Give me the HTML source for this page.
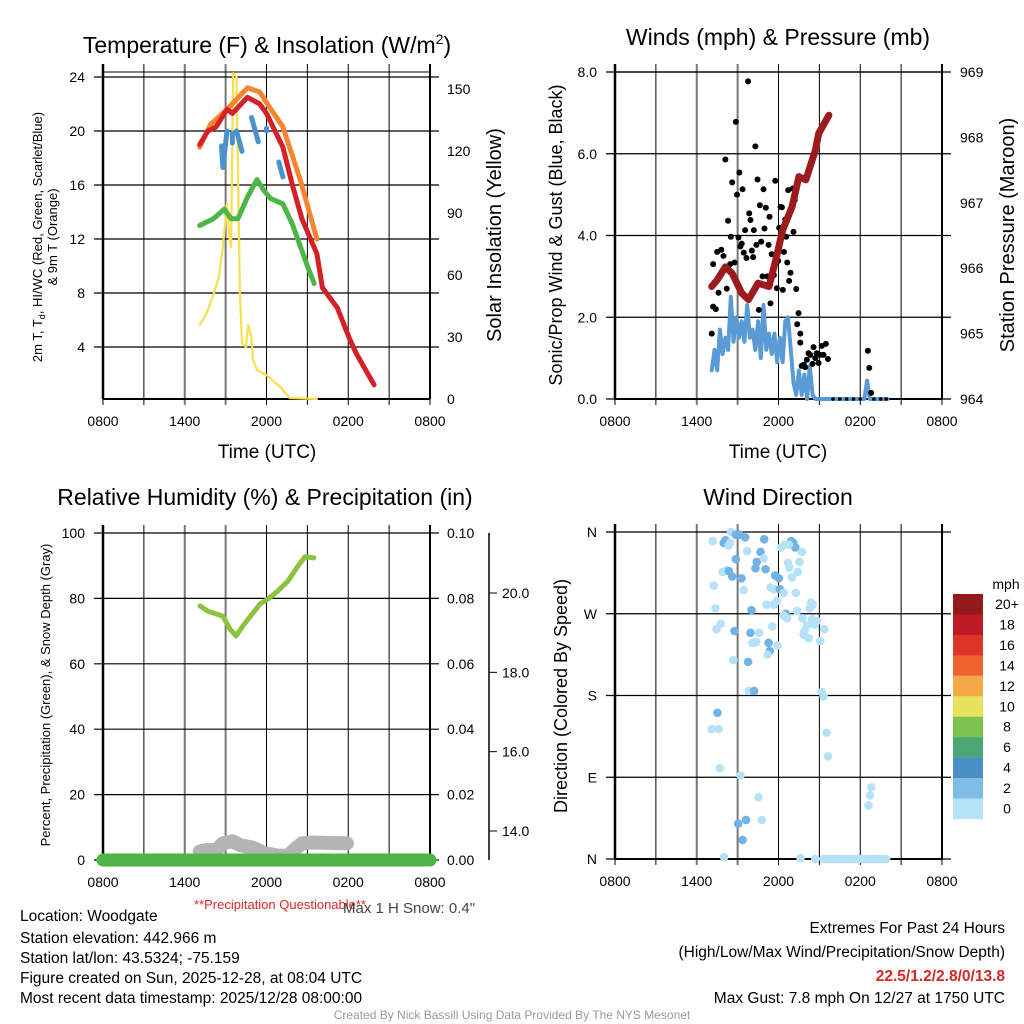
<!DOCTYPE html>
<html><head><meta charset="utf-8"><style>
html,body{margin:0;padding:0;background:#fff}
svg{display:block}
text{font-family:"Liberation Sans",sans-serif;fill:#000}
</style></head><body>
<svg id="s" width="1024" height="1024" viewBox="0 0 1024 1024" xmlns="http://www.w3.org/2000/svg">
<g id="static">
<text x="267" y="53" font-size="23" text-anchor="middle">Temperature (F) &amp; Insolation (W/m<tspan dy="-9" font-size="14">2</tspan><tspan dy="9">)</tspan></text>
<text x="778" y="45" font-size="23" text-anchor="middle">Winds (mph) &amp; Pressure (mb)</text>
<text x="265" y="505" font-size="23" text-anchor="middle">Relative Humidity (%) &amp; Precipitation (in)</text>
<text x="778" y="505" font-size="23" text-anchor="middle">Wind Direction</text>

<text transform="translate(42,237) rotate(-90)" font-size="13" text-anchor="middle">2m T, T<tspan dy="3" font-size="9">d</tspan><tspan dy="-3">, HI/WC (Red, Green, Scarlet/Blue)</tspan></text>
<text transform="translate(57,237) rotate(-90)" font-size="13" text-anchor="middle">&amp; 9m T (Orange)</text>
<text transform="translate(501,235) rotate(-90)" font-size="20" text-anchor="middle">Solar Insolation (Yellow)</text>
<text transform="translate(562,235) rotate(-90)" font-size="18" text-anchor="middle">Sonic/Prop Wind &amp; Gust (Blue, Black)</text>
<text transform="translate(1014,235) rotate(-90)" font-size="20" text-anchor="middle">Station Pressure (Maroon)</text>
<text transform="translate(50,695) rotate(-90)" font-size="13" text-anchor="middle">Percent, Precipitation (Green), &amp; Snow Depth (Gray)</text>
<text transform="translate(567,696) rotate(-90)" font-size="18" text-anchor="middle">Direction (Colored By Speed)</text>
<text x="267" y="458" font-size="19" text-anchor="middle">Time (UTC)</text>
<text x="778" y="458" font-size="19" text-anchor="middle">Time (UTC)</text>

<text x="280" y="909" font-size="13" fill="#d62728" style="fill:#d62728" text-anchor="middle">**Precipitation Questionable**</text>
<text x="343" y="913" font-size="15" style="fill:#444">Max 1 H Snow: 0.4"</text>
<g font-size="15.5">
<text x="20" y="921">Location: Woodgate</text>
<text x="20" y="943">Station elevation: 442.966 m</text>
<text x="20" y="963">Station lat/lon: 43.5324; -75.159</text>
<text x="20" y="983">Figure created on Sun, 2025-12-28, at 08:04 UTC</text>
<text x="20" y="1003">Most recent data timestamp: 2025/12/28 08:00:00</text>
</g>
<g font-size="15.5" text-anchor="end">
<text x="1005" y="933">Extremes For Past 24 Hours</text>
<text x="1005" y="957">(High/Low/Max Wind/Precipitation/Snow Depth)</text>
<text x="1005" y="981" font-weight="bold" style="fill:#d62728">22.5/1.2/2.8/0/13.8</text>
<text x="1005" y="1003">Max Gust: 7.8 mph On 12/27 at 1750 UTC</text>
</g>
<text x="512" y="1019" font-size="12" text-anchor="middle" style="fill:#999">Created By Nick Bassill Using Data Provided By The NYS Mesonet</text>
</g>
</svg>
<script>
// ---- data (hours after 0800 UTC) ----
const timeTicks = ["0800","1400","2000","0200","0800"];
const redT_h = [7.1,7.7,8.3,9.1,9.5,10.6,11.5,12.0,13.2,13.9,14.6,15.7,16.1,17.2,18.1,18.6,19.9];
const redT_v = [19.0,20.0,20.3,21.6,21.3,22.5,22.0,21.3,18.8,16.0,13.5,10.9,8.4,6.9,4.6,3.5,1.2];
const orgT_h = [7.1,7.9,9.1,10.6,11.5,12.0,13.2,14.5,15.7];
const orgT_v = [18.8,20.5,21.6,23.2,22.9,22.1,20.3,16.3,12.0];
const grnT_h = [7.1,8.1,8.9,9.4,9.9,10.6,11.3,11.8,12.3,13.2,13.9,15.0,15.5];
const grnT_v = [13.0,13.5,14.2,13.5,13.5,15.1,16.4,15.6,15.0,14.6,13.1,10.0,8.7];
const bluT_h = [8.7,8.8,9.1,null,9.5,9.5,null,9.8,10.2,null,10.9,11.4,null,12.0,12.0,null,12.9,13.2];
const bluT_v = [18.9,17.3,20.0,null,19.8,19.1,null,20.0,18.5,null,21.0,19.2,null,20.2,20.0,null,17.7,16.6];
const solar_h = [7.1,7.6,8.1,8.5,8.8,9.1,9.3,9.4,9.55,9.8,10.05,10.2,10.5,10.65,10.9,11.0,11.3,12.0,13.0,13.7,15.7];
const solar_v = [35.8,41.6,50.3,59,73.5,94.8,77,73.5,157.7,155.8,51,27,25,35.8,30,19,14,11.6,5.8,0.5,0];
const pres_h = [7.1,7.5,8.1,8.6,9.3,9.8,10.5,11.3,11.8,12.3,13.0,13.5,14.0,14.7,14.95,15.7];
const pres_v = [965.72,965.82,966.02,965.92,965.62,965.52,965.77,965.72,966.13,966.58,966.94,967.40,967.35,967.80,968.06,968.34];
const wind_h = [7.1,7.3,7.5,7.7,7.9,8.1,8.3,8.5,8.7,8.9,9.1,9.3,9.5,9.7,9.9,10.1,10.3,10.5,10.7,10.9,11.1,11.3,11.5,11.7,11.9,12.1,12.3,12.5,12.7,12.9,13.1,13.3,13.5,13.7,13.9,14.1,14.3,14.5,14.7,15.0,18.3,18.5,18.7,20.0];
const wind_v = [0.7,1.2,0.7,1.7,1.1,1.5,1.2,2.5,1.4,2.0,1.5,1.9,1.4,2.3,1.5,1.7,1.2,1.9,1.0,2.3,1.2,1.6,1.1,1.6,0.9,1.5,0.9,1.9,2.0,1.2,0.4,0.1,0.7,0.1,0.6,0.0,0.8,0.1,0.0,0.0,0.0,0.45,0.0,0.0];
const gust_h = [7.1,7.2,7.2,7.4,7.5,7.6,7.8,7.96,8.1,8.2,8.3,8.45,8.5,8.6,8.77,8.87,8.96,9.06,9.13,9.2,9.3,9.36,9.45,9.55,9.65,9.77,9.85,9.94,10.04,10.14,10.19,10.3,10.38,10.46,10.56,10.63,10.73,10.83,10.9,10.97,11.07,11.17,11.27,11.34,11.41,11.5,11.66,11.76,11.88,11.98,12.05,12.15,12.25,12.32,12.4,12.49,12.56,12.64,12.71,12.78,12.88,13.03,13.1,13.2,13.3,13.37,13.47,13.6,13.6,13.7,13.86,13.96,14.08,14.2,14.33,14.5,14.57,14.7,14.8,14.94,15.06,15.18,15.3,15.48,15.63,18.56,18.66,18.8,16.0,16.5,17.0,17.5,18.0,19.0,19.5,19.9];
const gust_v = [1.6,3.3,2.26,2.2,3.6,2.6,3.65,3.5,5.86,2.7,4.36,3.3,3.97,5.3,3.34,6.78,5.0,3.95,5.54,3.73,3.8,5.13,3.58,4.13,3.45,7.77,4.54,4.38,3.63,3.47,4.13,6.18,3.77,5.37,2.18,4.74,3.85,3.0,5.13,4.17,4.68,3.0,3.77,4.46,2.34,3.54,3.03,5.34,2.71,3.38,4.19,4.7,4.69,2.67,3.6,4.39,3.97,3.34,5.11,2.89,3.09,5.15,4.09,4.87,2.69,1.83,2.1,1.6,1.38,0.81,0.84,0.78,0.96,1.12,1.08,0.86,1.27,1.0,1.12,0.88,1.08,1.3,1.08,1.35,0.98,1.18,0.76,0.15,0,0,0,0,0,0,0,0];
const rh_h = [7.12,7.70,8.80,9.32,9.76,10.27,11.0,11.52,12.1,12.84,13.57,14.31,14.82,15.48];
const rh_v = [77.7,76.1,74.6,70.6,68.5,71.6,75.5,78.3,79.8,82.3,85.3,89.9,92.7,92.4];
const precip_h = [0,24];
const precip_v = [0,0];
const snow_h = [7.1,7.6,8.3,8.8,9.5,10.1,11.0,11.8,12.8,13.6,14.1,14.6,15.3,17.9];
const snow_v = [13.48,13.52,13.51,13.69,13.74,13.64,13.58,13.45,13.38,13.38,13.55,13.69,13.71,13.69];
const dir_h = [7.18,8.52,7.98,8.11,8.33,8.45,8.87,9.14,9.55,9.70,10.68,10.95,10.41,10.90,10.31,11.05,8.87,7.89,8.20,8.35,8.60,9.28,7.25,9.45,11.76,12.03,11.41,11.68,12.10,12.39,12.93,13.08,13.23,12.76,12.20,12.44,13.72,12.69,12.78,13.54,12.98,13.42,13.27,7.37,10.02,11.12,11.66,11.88,12.54,13.37,14.38,14.52,14.28,12.37,12.64,13.76,14.45,14.82,14.65,15.36,14.08,13.91,13.84,14.21,15.06,7.45,7.76,8.77,9.94,10.58,10.09,10.36,11.54,11.27,11.36,11.19,11.93,8.69,9.77,9.82,10.21,15.18,15.31,7.52,7.10,7.62,15.53,15.63,7.69,9.21,10.53,10.78,9.62,9.04,9.36,18.81,18.71,18.61,8.01,13.62,14.70,15.3,15.5,15.7,15.9,16.1,16.3,16.5,16.7,16.9,17.1,17.3,17.5,17.7,17.9,18.1,18.3,18.5,18.7,18.9,19.1,19.3,19.5,19.7,19.9];
const dir_deg = [350,360,348,351,345,348,357,357,354,339,338,352,327,331,320,319,330,316,318,317,311,309,301,296,312,309,299,297,297,293,350,348,343,346,343,346,338,326,321,327,310,316,293,276,274,280,280,284,270,273,282,280,276,268,265,265,264,262,258,253,257,251,247,243,240,253,259,251,249,249,238,239,256,238,229,225,235,219,217,185,185,184,179,161,143,143,139,113,100,92,68,43,43,39,21,79,70,59,2,1,0,0,0,0,0,0,0,0,0,0,0,0,0,0,0,0,0,0,0,0,0,0,0,0,0];
const dir_spd = [1,1,3,3,1,1,3,3,3,1,3,3,3,1,3,3,3,1,1,3,3,3,1,1,3,3,1,1,3,1,3,3,3,1,1,1,1,1,1,1,1,1,1,1,3,1,1,1,3,1,1,1,1,1,1,1,1,1,1,1,1,1,1,1,1,1,1,3,3,1,1,1,1,3,3,1,1,1,3,1,3,1,1,3,1,1,1,1,1,1,1,1,3,3,3,1,1,1,1,1,1,1,1,1,1,1,1,1,1,1,1,1,1,1,1,1,1,1,1,1,1,1,1,1,1];
const cbarLabels = ["20+","18","16","14","12","10","8","6","4","2","0"];
const cbarColors = ["#921a1c","#bd1c25","#dd3529","#ef6330","#f6a747","#e7e15c","#7cc24d","#4aa672","#4a90c6","#80bde6","#b5e2f7"];
const tempTicks = [4,8,12,16,20,24];
const solarTicks = [0,30,60,90,120,150];
const windTicks = [0,2,4,6,8];
const presTicks = [964,965,966,967,968,969];
const rhTicks = [0,20,40,60,80,100];
const precipTicks = [0,0.02,0.04,0.06,0.08,0.10];
const snowTicks = [14,16,18,20];
const dirTicks = [0,90,180,270,360];
const dirLabels = ["N","E","S","W","N"];

const NS="http://www.w3.org/2000/svg";
const svg=document.getElementById('s');
function el(tag,attrs,parent){const e=document.createElementNS(NS,tag);for(const k in attrs)e.setAttribute(k,attrs[k]);(parent||svg).appendChild(e);return e;}
function lin(d0,d1,r0,r1){return v=>r0+(v-d0)*(r1-r0)/(d1-d0);}

function panel(name,L,R,T,B,hLines,yMap){
  const g=el('g',{});
  
  
  const xs=lin(0,24,L,R);
  for(let i=0;i<=8;i++){
    const x=xs(i*3);
    const ln=el('line',{x1:x,y1:T-8,x2:x,y2:B+6,stroke:(i==2||i==3)?'#777':'#000','stroke-width':(i==2||i==3)?2:1},g);
    
    
  }
  hLines.forEach(v=>{const y=yMap(v);const ln=el('line',{x1:L-9,y1:y,x2:R+9,y2:y,stroke:'#000','stroke-width':1.2},g);
    
    });
  el('line',{x1:L,y1:T-8,x2:L,y2:B,stroke:'#000','stroke-width':2.5},g);
  el('line',{x1:R,y1:T-8,x2:R,y2:B,stroke:'#000','stroke-width':2},g);
  el('line',{x1:L,y1:B,x2:R,y2:B,stroke:'#000','stroke-width':2},g);
  timeTicks.forEach((t,i)=>{const tx=el('text',{x:xs(i*6),y:B+27,'font-size':14,'text-anchor':'middle'},g);tx.textContent=t;
    
    });
  return xs;
}
function tickLabels(ticks,yMap,x,anchor,fmt,name){
  ticks.forEach(v=>{const t=el('text',{x:x,y:yMap(v)+5,'font-size':14,'text-anchor':anchor});t.textContent=fmt(v);
    
    });
}
function poly(xs,ys,H,V,color,w,name){
  let segs=[],cur=[];
  for(let i=0;i<H.length;i++){if(H[i]===null){if(cur.length)segs.push(cur);cur=[];}else cur.push(xs(H[i]).toFixed(1)+','+ys(V[i]).toFixed(1));}
  if(cur.length)segs.push(cur);
  segs.forEach(s=>{const p=el('polyline',{points:s.join(' '),fill:'none',stroke:color,'stroke-width':w,'stroke-linejoin':'round','stroke-linecap':'round'});
    
    });
}

// Panel 1: temperature
const t_y=lin(0,24,401,77), s_y=lin(0,150,399,89);
const x1=panel('temperature',103,430,72,399,tempTicks,t_y);
el('line',{x1:103,y1:72,x2:430,y2:72,stroke:'#000','stroke-width':1});
tickLabels(tempTicks,t_y,85,'end',v=>v,'temp-y-tick-label');
tickLabels(solarTicks,s_y,447,'start',v=>v,'solar-y-tick-label');
poly(x1,s_y,solar_h,solar_v,'#f7df4d',2.2,'solar-insolation-line');
poly(x1,t_y,grnT_h,grnT_v,'#4db446',5,'dewpoint-line');
poly(x1,t_y,orgT_h,orgT_v,'#f5862f',5,'temp-9m-line');
poly(x1,t_y,redT_h,redT_v,'#d42027',5,'temp-2m-line');
poly(x1,t_y,bluT_h,bluT_v,'#4b91cd',5,'heat-index-windchill-line');

// Panel 2: winds
const w_y=lin(0,8,399,72), p_y=lin(964,969,399,72);
const x2=panel('winds',615,942,72,399,windTicks,w_y);
el('line',{x1:615,y1:72,x2:942,y2:72,stroke:'#000','stroke-width':1.2});
tickLabels(windTicks,w_y,597,'end',v=>v.toFixed(1),'wind-y-tick-label');
tickLabels(presTicks,p_y,960,'start',v=>v,'pressure-y-tick-label');
poly(x2,w_y,wind_h,wind_v,'#5b9bd5',4,'wind-speed-line');
gust_h.forEach((h,i)=>{const c=el('circle',{cx:x2(h),cy:w_y(gust_v[i]),r:(gust_v[i]===0?1.8:3),fill:'#000'});
  
  });
poly(x2,p_y,pres_h,pres_v,'#9b1b1e',7,'pressure-line');

// Panel 3: RH
const r_y=lin(0,100,860,533), pr_y=lin(0,0.1,860,533), sn_y=lin(14,20,831,593);
const x3=panel('humidity',103,430,533,860,rhTicks,r_y);
tickLabels(rhTicks,r_y,85,'end',v=>v,'rh-y-tick-label');
tickLabels(precipTicks,pr_y,447,'start',v=>v.toFixed(2),'precip-y-tick-label');
el('line',{x1:489,y1:533,x2:489,y2:860,stroke:'#000','stroke-width':1.5});
snowTicks.forEach(v=>el('line',{x1:489,y1:sn_y(v),x2:497,y2:sn_y(v),stroke:'#000'}));
tickLabels(snowTicks,sn_y,502,'start',v=>v.toFixed(1),'snow-y-tick-label');
poly(x3,sn_y,snow_h,snow_v,'#b4b4b4',14,'snow-depth-line');
poly(x3,pr_y,precip_h,precip_v,'#4db446',13,'precipitation-line');
poly(x3,r_y,rh_h,rh_v,'#8cc23f',5,'rh-line');

// Panel 4: direction
const d_y=lin(0,360,859,532);
const x4=panel('direction',615,942,532,859,dirTicks,d_y);
dirTicks.forEach((v,i)=>{const t=el('text',{x:597,y:d_y(v)+5,'font-size':14,'text-anchor':'end'});t.textContent=dirLabels[i];
  
  });
dir_h.forEach((h,i)=>{const c=el('circle',{cx:x4(h),cy:d_y(dir_deg[i]),r:4.3,fill:dir_spd[i]>=2?'#72b2e4':'#b5e2f7'});
  
  });
// colorbar
const cb=el('g',{});


const mt=el('text',{x:1006,y:589,'font-size':14,'text-anchor':'middle'},cb);mt.textContent='mph';
cbarLabels.forEach((l,i)=>{const y=594+i*20.45;
  el('rect',{x:953,y:y,width:30,height:20.6,fill:cbarColors[i]},cb);
  const t=el('text',{x:1007,y:y+15,'font-size':14,'text-anchor':'middle'},cb);t.textContent=l;
  
  });
</script>
</body></html>
